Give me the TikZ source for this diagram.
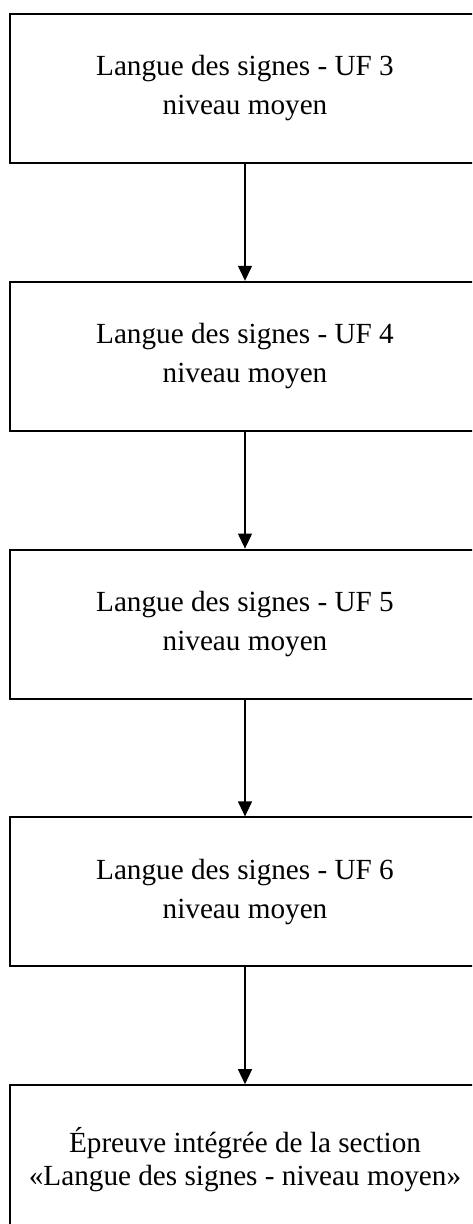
\documentclass[tikz,border=0pt]{standalone}
\usepackage{fontspec}
\setmainfont{Liberation Serif}
\usepackage{tikz}
\usetikzlibrary{positioning, arrows.meta}

\begin{document}
\begin{tikzpicture}[node distance=58.4pt,
	ufbox/.style={draw, line width=1pt, minimum width=235pt, minimum height=74.5pt, inner sep=0pt, align=center, font={\fontsize{14.6}{19.5}\selectfont}},
	flow/.style={-{Triangle[length=7.5pt, width=7pt]}, line width=0.6pt}]
	\useasboundingbox (0,0) rectangle (236pt,-612pt);
	\clip (0,0) rectangle (236pt,-612pt);
	% Components
	\node[ufbox] (uf3) at (122.5pt,-44.25pt) {Langue des signes - UF 3\\niveau moyen};
	\node[ufbox, below=of uf3] (uf4) {Langue des signes - UF 4\\niveau moyen};
	\node[ufbox, below=of uf4] (uf5) {Langue des signes - UF 5\\niveau moyen};
	\node[ufbox, below=of uf5] (uf6) {Langue des signes - UF 6\\niveau moyen};
	\node[ufbox, below=of uf6, font={\fontsize{14.6}{16.5}\selectfont}] (epreuve) {Épreuve intégrée de la section\\«Langue des signes - niveau moyen»};
	
	% Connections
	\draw[flow] (uf3) -- (uf4);
	\draw[flow] (uf4) -- (uf5);
	\draw[flow] (uf5) -- (uf6);
	\draw[flow] (uf6) -- (epreuve);
\end{tikzpicture}
\end{document}
